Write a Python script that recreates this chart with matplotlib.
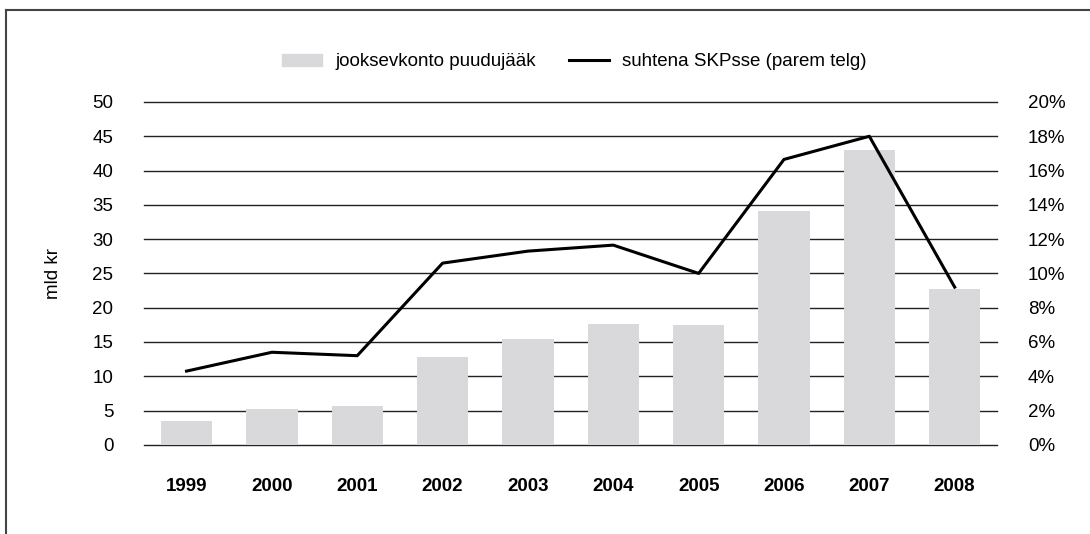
import matplotlib.pyplot as plt
from matplotlib.lines import Line2D
from matplotlib.patches import Patch
import numpy as np

plt.rcParams['font.family'] = ['Liberation Sans', 'DejaVu Sans']

years = ['1999', '2000', '2001', '2002', '2003', '2004', '2005', '2006', '2007', '2008']
deficit = [3.5, 5.2, 5.7, 12.8, 15.4, 17.6, 17.5, 34.1, 43.0, 22.7]   # mld kr
share_gdp = [4.3, 5.4, 5.2, 10.6, 11.3, 11.65, 10.0, 16.65, 18.0, 9.2]  # %

left_ticks = [0, 5, 10, 15, 20, 25, 30, 35, 40, 45, 50]
right_ticks = [0, 2, 4, 6, 8, 10, 12, 14, 16, 18, 20]

fs = 13.5
fig = plt.figure(figsize=(10.9, 5.34), dpi=100)
ax = fig.add_axes([0.132, 0.167, 0.783, 0.642])
x = np.arange(len(years))

# grid lines behind the bars
for t in left_ticks:
    ax.axhline(t, color='#222222', lw=1.0, zorder=1, clip_on=False)
ax.bar(x, deficit, width=0.6, color='#d9d9db', zorder=2)

ax.set_xlim(-0.5, len(years) - 0.5)
ax.set_ylim(0, 50)
ax.set_yticks(left_ticks)
ax.set_xticks(x)
ax.set_xticklabels(years, fontweight='bold')
ax.tick_params(axis='y', length=0, pad=22, labelsize=fs)
ax.tick_params(axis='x', length=0, pad=24, labelsize=fs)
ax.set_ylabel('mld kr', fontsize=fs, labelpad=22)
for s in ax.spines.values():
    s.set_visible(False)

ax2 = ax.twinx()
ax2.plot(x, share_gdp, color='black', lw=2.2, zorder=3)
ax2.set_ylim(0, 20)
ax2.set_yticks(right_ticks)
ax2.set_yticklabels([f'{t}%' for t in right_ticks])
ax2.tick_params(axis='y', length=0, pad=22, labelsize=fs)
for s in ax2.spines.values():
    s.set_visible(False)

handles = [Patch(color='#d9d9db'), Line2D([], [], color='black', lw=2.2)]
labels = ['jooksevkonto puudujääk', 'suhtena SKPsse (parem telg)']
fig.legend(handles, labels, loc='center', bbox_to_anchor=(0.527, 0.884), ncol=2,
           frameon=False, fontsize=fs, handlelength=2.1, handleheight=0.6,
           handletextpad=0.7, columnspacing=1.8)

# outer frame (left and top edges)
fig.add_artist(Line2D([6 / 1090, 6 / 1090], [0, 1 - 10 / 534], color='#444444', lw=1.5))
fig.add_artist(Line2D([6 / 1090, 1], [1 - 10 / 534, 1 - 10 / 534], color='#444444', lw=1.5))

fig.savefig('out.png', dpi=100)
